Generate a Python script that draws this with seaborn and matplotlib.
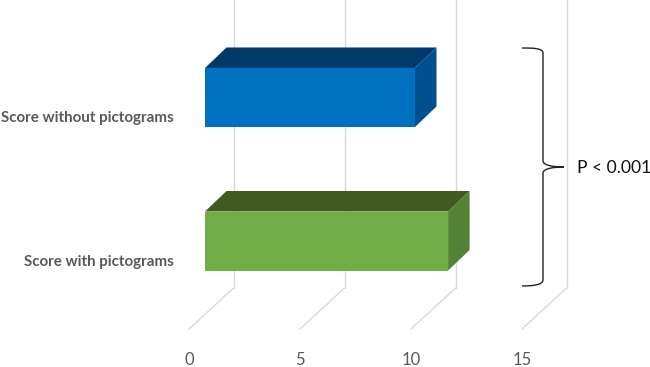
import matplotlib
matplotlib.use("Agg")
import matplotlib.pyplot as plt
import seaborn as sns
from matplotlib.patches import PathPatch, Polygon
from matplotlib.path import Path
from matplotlib.transforms import Affine2D, ScaledTranslation

# values
categories = ["Score without pictograms", "Score with pictograms"]
scores = [9.46, 10.95]
x_ticks = [0, 5, 10, 15]
annotation = "P < 0.001"

front_colors = ["#0070C0", "#70AD47"]
top_colors = ["#003A6B", "#3E5C22"]
side_colors = ["#00508F", "#548235"]
grid_color = "#D9D9D9"
text_color = "#595959"

W, H = 650, 367
sns.set_theme(style="white")
plt.rcParams["font.family"] = ["Lato", "DejaVu Sans"]

fig = plt.figure(figsize=(W / 100, H / 100), dpi=100)
# axes goes from zero on the bar plane down to the floor front edge
ax = fig.add_axes([205 / W, (H - 329) / H, 333 / W, 329 / H])

sns.barplot(x=scores, y=categories, hue=categories, palette=front_colors,
            legend=False, width=0.411, ax=ax, zorder=3, saturation=1,
            edgecolor="none", linewidth=0)
ax.set_xlim(0, 15)
ax.set_ylim(1.613, -0.679)

# depth of the fake 3d, px converted to data units
unit_x = 333 / 15
unit_y = 143.5
bar_dx = 21.5 / unit_x
bar_dy = -20.5 / unit_y
wall_dx = 28.5 / unit_x
floor_dx = -16 / unit_x
wall_bottom = 1.3275
floor_front = 1.613

# back wall and floor lines
for t in x_ticks:
    ax.plot([t + wall_dx, t + wall_dx], [-0.679, wall_bottom], color=grid_color,
            lw=1, clip_on=False, zorder=1)
    ax.plot([t + wall_dx, t + floor_dx], [wall_bottom, floor_front], color=grid_color,
            lw=1, clip_on=False, zorder=1)

# top and side faces from the bars seaborn drew
for i, bar in enumerate(ax.patches):
    x0 = bar.get_x()
    x1 = x0 + bar.get_width()
    y0 = bar.get_y()
    y1 = y0 + bar.get_height()
    ax.add_patch(Polygon([(x0, y0), (x1, y0), (x1 + bar_dx, y0 + bar_dy), (x0 + bar_dx, y0 + bar_dy)],
                         closed=True, fc=top_colors[i], ec="none", zorder=3, clip_on=False))
    ax.add_patch(Polygon([(x1, y0), (x1 + bar_dx, y0 + bar_dy), (x1 + bar_dx, y1 + bar_dy), (x1, y1)],
                         closed=True, fc=side_colors[i], ec="none", zorder=3, clip_on=False))

sns.despine(ax=ax, left=True, bottom=True, top=True, right=True)
ax.set_xlabel("")
ax.set_ylabel("")
ax.tick_params(axis="both", length=0)
ax.tick_params(axis="y", pad=31 * 0.72, labelsize=10.9, labelcolor=text_color)
ax.tick_params(axis="x", pad=23 * 0.72, labelsize=12, labelcolor=text_color)
ax.set_xticks(x_ticks)
# category labels sit lower than the bar centres in the original
drop = ScaledTranslation(0, -19 / 100, fig.dpi_scale_trans)
for lab in ax.get_yticklabels():
    lab.set_fontweight("bold")
    lab.set_transform(lab.get_transform() + drop)
# tick numbers sit at the front of the floor, not on the bar plane
shift = ScaledTranslation(-16 / 100, 0, fig.dpi_scale_trans)
for lab in ax.get_xticklabels():
    lab.set_transform(lab.get_transform() + shift)

# brace, in figure pixels from the top left
to_px = Affine2D().scale(1, -1).translate(0, H)
codes = [Path.MOVETO, Path.CURVE4, Path.CURVE4, Path.CURVE4,
         Path.LINETO, Path.CURVE4, Path.CURVE4, Path.CURVE4,
         Path.CURVE4, Path.CURVE4, Path.CURVE4,
         Path.LINETO, Path.CURVE4, Path.CURVE4, Path.CURVE4]
verts = [(522, 48), (532, 48), (543, 48), (543, 53),
         (543, 161), (543, 165), (552, 167), (564, 167),
         (552, 167), (543, 169), (543, 173),
         (543, 280), (543, 285), (532, 286), (522, 286)]
fig.add_artist(PathPatch(Path(verts, codes), fc="none", ec="#222222", lw=1,
                         transform=to_px))
fig.text(577 / W, (H - 168) / H, annotation, fontsize=12.6, color="#111111",
         ha="left", va="center")

fig.savefig("out.png", dpi=100)
